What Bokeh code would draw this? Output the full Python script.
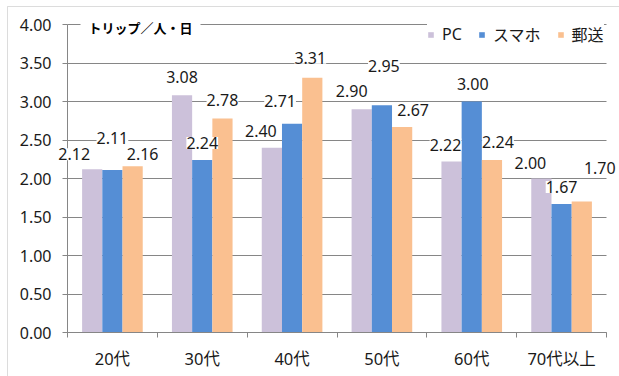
from bokeh.plotting import figure
from bokeh.models import (ColumnDataSource, Range1d, FixedTicker, NumeralTickFormatter,
                          LabelSet, Label, BoxAnnotation, CustomJSTickFormatter, Grid)
from bokeh.core.properties import value
from bokeh.embed import file_html
from bokeh.resources import INLINE

# ---- data ----
categories = ["20代", "30代", "40代", "50代", "60代", "70代以上"]
series_names = ["PC", "スマホ", "郵送"]
pc = [2.12, 3.08, 2.40, 2.90, 2.22, 2.00]
smartphone = [2.11, 2.24, 2.71, 2.95, 3.00, 1.67]
mail = [2.16, 2.78, 3.31, 2.67, 2.24, 1.70]
y_ticks = [0.0, 0.5, 1.0, 1.5, 2.0, 2.5, 3.0, 3.5, 4.0]
y_max = 4.0
unit_label = "トリップ／人・日"

# ---- label nudges (pixels) ----
pc_dx = [-18, 0, -11, -10, -6, -11]
pc_dy = [15, 18, 17, 18, 17, 16]
sp_dx = [0, 0, -12, 2, 1, 0]
sp_dy = [32, 17, 23, 39, 18, 17]
ml_dx = [10, 0, -2, 11, 6, 18]
ml_dy = [12, 18, 20, 17, 18, 34]

# ---- style / layout (pixels) ----
W, H = 619, 376
plot_left, plot_right, plot_top, plot_bottom = 67, 606, 24, 332
colors = ["#CCC1DA", "#558ED5", "#FAC090"]
grid_col = "#868686"
txt_col = "#1a1a1a"
FONT = "'Noto Sans', 'Noto Sans CJK JP'"
JFONT = "'Noto Sans CJK JP'"
bar_w = 0.225
offsets = [-bar_w, 0.0, bar_w]

n = len(categories)
xs = (plot_right - plot_left) / n          # px per category
ys = (plot_bottom - plot_top) / y_max      # px per unit
x_range = Range1d(-plot_left / xs, n + (W - plot_right) / xs)
y_range = Range1d(-(H - plot_bottom) / ys, y_max + plot_top / ys)

p = figure(width=W, height=H, output_backend="svg", toolbar_location=None,
           x_range=x_range, y_range=y_range,
           min_border_left=0, min_border_right=0, min_border_top=0, min_border_bottom=0)
p.outline_line_color = None
p.background_fill_color = "white"
p.border_fill_color = "white"

centers = [i + 0.5 for i in range(n)]
all_series = [pc, smartphone, mail]
dxs = [pc_dx, sp_dx, ml_dx]
dys = [pc_dy, sp_dy, ml_dy]

# grid lines (limited to the plot area)
if "cross_bounds" in Grid.properties():
    p.ygrid.cross_bounds = (0, n)
    p.ygrid.bounds = (0, y_max)
    p.ygrid.grid_line_color = grid_col
    p.ygrid.ticker = FixedTicker(ticks=y_ticks)
else:
    p.ygrid.grid_line_color = None
    p.segment(x0=[0] * len(y_ticks), x1=[n] * len(y_ticks), y0=y_ticks, y1=y_ticks,
              line_color=grid_col, line_width=1, level="underlay")
p.xgrid.grid_line_color = None

label_sources = []
for k, (vals, name) in enumerate(zip(all_series, series_names)):
    src = ColumnDataSource(dict(
        x=[c + offsets[k] for c in centers],
        top=vals,
        lbl=["%.2f" % v for v in vals],
        dx=dxs[k], dy=dys[k],
    ))
    p.vbar(x="x", top="top", width=bar_w, source=src, fill_color=colors[k],
           line_color=None, legend_label=name)
    label_sources.append(src)

for src in label_sources:
    ls = LabelSet(x="x", y="top", text="lbl", source=src, x_offset="dx", y_offset="dy",
                  text_align="center", text_baseline="middle",
                  text_font=value(FONT), text_font_size=value("16px"), text_color=value(txt_col),
                  background_fill_color=value("white"))
    if "padding" in LabelSet.properties():
        ls.padding = 2
    p.add_layout(ls)

# y axis (fixed at x = 0)
p.yaxis.fixed_location = 0
p.yaxis.bounds = (0, y_max)
p.yaxis.ticker = FixedTicker(ticks=y_ticks)
p.yaxis.formatter = NumeralTickFormatter(format="0.00")
p.yaxis.axis_line_color = grid_col
p.yaxis.major_tick_line_color = grid_col
p.yaxis.major_tick_out = 5
p.yaxis.major_tick_in = 0
p.yaxis.minor_tick_line_color = None
p.yaxis.major_label_standoff = 11
p.yaxis.major_label_text_font = FONT
p.yaxis.major_label_text_font_size = "16px"
p.yaxis.major_label_text_color = txt_col

# x axis (fixed at y = 0): ticks at category boundaries, labels at centres
p.xaxis.fixed_location = 0
p.xaxis.bounds = (0, n)
p.xaxis.ticker = FixedTicker(ticks=centers, minor_ticks=list(range(n + 1)))
p.xaxis.formatter = CustomJSTickFormatter(args=dict(cats=categories),
                                          code="return cats[Math.floor(tick)];")
p.xaxis.axis_line_color = grid_col
p.xaxis.major_tick_line_color = None
p.xaxis.major_tick_out = 0
p.xaxis.major_tick_in = 0
p.xaxis.minor_tick_line_color = grid_col
p.xaxis.minor_tick_out = 5
p.xaxis.minor_tick_in = 0
p.xaxis.major_label_standoff = 9
p.xaxis.major_label_text_font = FONT
p.xaxis.major_label_text_font_size = "16.5px"
p.xaxis.major_label_text_color = txt_col

# unit label
title = Label(x=0, y=y_max, x_offset=13, y_offset=-3, text=unit_label,
              text_font=JFONT, text_font_size="13px", text_font_style="bold",
              text_color="black", text_align="left", text_baseline="middle",
              background_fill_color="white")
if "padding" in Label.properties():
    title.padding = (8, 2)
p.add_layout(title)

# legend
lg = p.legend[0]
lg.orientation = "horizontal"
lg.location = (427, 330)
lg.background_fill_color = "white"
lg.background_fill_alpha = 1
lg.border_line_color = None
lg.label_text_font = FONT
lg.label_text_font_size = "16px"
lg.label_text_color = txt_col
lg.glyph_width = 7
lg.glyph_height = 7
lg.label_standoff = 8
lg.spacing = 16
lg.padding = 8
lg.margin = 0

# chart-area border
p.add_layout(BoxAnnotation(left=7, right=W + 50, top=6, bottom=H + 50,
                           left_units="canvas", right_units="canvas",
                           top_units="canvas", bottom_units="canvas",
                           fill_alpha=0, line_color="#8c8c8c", line_width=1))

open("out.html", "w").write(file_html(p, INLINE))
